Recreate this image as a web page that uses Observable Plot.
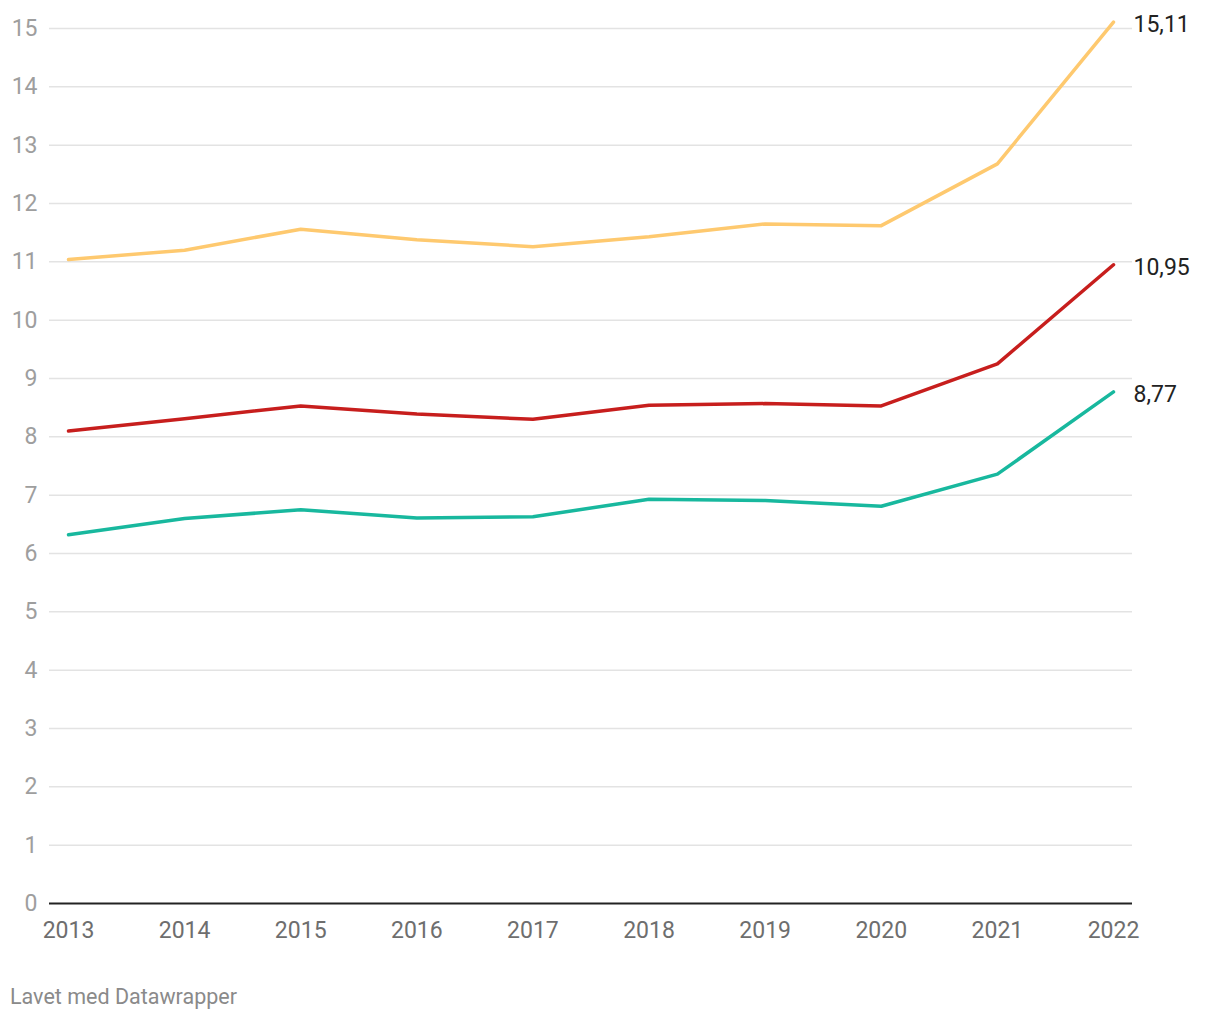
<!DOCTYPE html>
<html>
<head>
<meta charset="utf-8">
<script src="https://cdn.jsdelivr.net/npm/d3@7"></script>
<script src="https://cdn.jsdelivr.net/npm/@observablehq/plot@0.6"></script>
<style>
  body { margin: 0; background: #fff; font-family: Roboto, "Noto Sans", sans-serif; }
  #chart { position: relative; width: 1220px; }
  .footer { position: absolute; left: 10px; top: 984px; font-size: 21.5px; color: #8a8a8a; font-family: Roboto, sans-serif; }
</style>
</head>
<body>
<div id="chart"></div>
<div class="footer">Lavet med Datawrapper</div>
<script>
const years = [2013, 2014, 2015, 2016, 2017, 2018, 2019, 2020, 2021, 2022];
const seriesNames = ["Gul", "Rød", "Grøn"];
const seriesColors = ["#fec96f", "#c71e1d", "#18b89e"];
const yellowValues = [11.04, 11.20, 11.56, 11.38, 11.26, 11.43, 11.65, 11.62, 12.68, 15.11];
const redValues    = [8.10, 8.31, 8.53, 8.39, 8.30, 8.54, 8.57, 8.53, 9.25, 10.95];
const tealValues   = [6.32, 6.60, 6.75, 6.61, 6.63, 6.93, 6.91, 6.81, 7.36, 8.77];
const yTicks = [0,1,2,3,4,5,6,7,8,9,10,11,12,13,14,15];

const allSeries = [yellowValues, redValues, tealValues];
const rows = [];
allSeries.forEach((vals, i) => vals.forEach((v, j) => rows.push({year: years[j], value: v, series: seriesNames[i]})));
const lastRows = allSeries.map((vals, i) => ({year: years[years.length - 1], value: vals[vals.length - 1], series: seriesNames[i]}));
const fmt = v => v.toFixed(2).replace(".", ",");

const chart = Plot.plot({
  width: 1220,
  height: 960,
  marginTop: 28,
  marginBottom: 57,
  marginLeft: 49,
  marginRight: 88,
  insetLeft: 19,
  insetRight: 19,
  style: {fontFamily: "Roboto, sans-serif", background: "#fff"},
  x: {type: "linear", domain: [2013, 2022], axis: null},
  y: {domain: [0, 15], axis: null},
  color: {domain: seriesNames, range: seriesColors},
  marks: [
    Plot.ruleY(yTicks.filter(d => d > 0), {stroke: "#e3e3e3", strokeWidth: 1.5}),
    Plot.text(yTicks, {x: 2013, y: d => d, text: d => String(d), frameAnchor: "left", textAnchor: "end", dx: -31, fill: "#9e9e9e", fontSize: 23}),
    Plot.text(years, {x: d => d, y: 0, text: d => String(d), dy: 27, fill: "#6e6e6e", fontSize: 23}),
    Plot.line(rows, {x: "year", y: "value", z: "series", stroke: "series", strokeWidth: 3.5, curve: "linear"}),
    Plot.ruleY([0], {stroke: "#222", strokeWidth: 2}),
    Plot.text(lastRows, {x: "year", y: "value", text: d => fmt(d.value), textAnchor: "start", dx: 20, dy: 3, fill: "#222", fontSize: 23})
  ]
});
document.getElementById("chart").appendChild(chart);
</script>
</body>
</html>
